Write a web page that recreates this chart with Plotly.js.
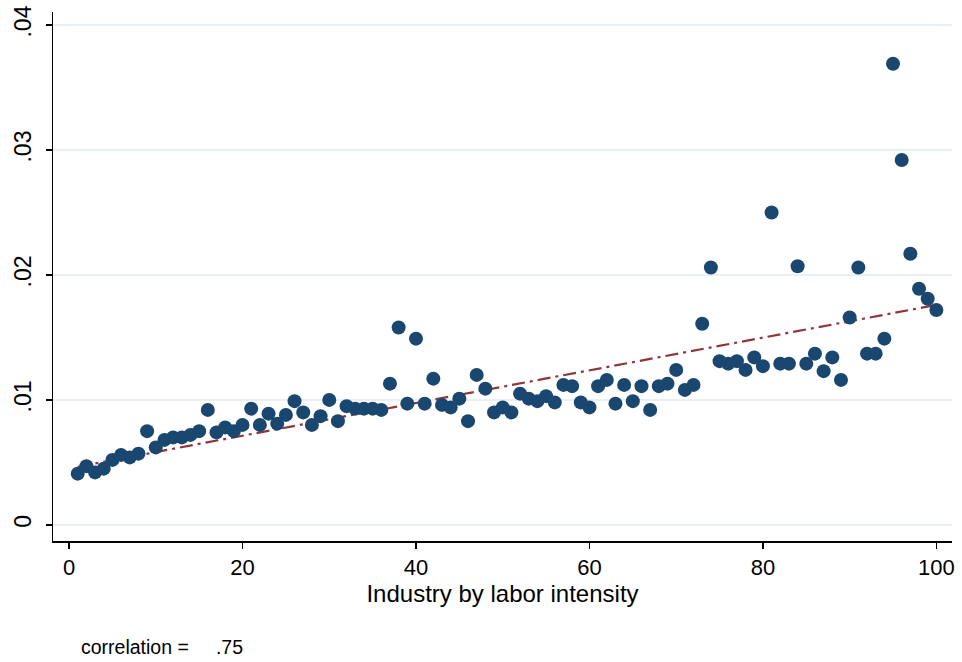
<!DOCTYPE html>
<html>
<head>
<meta charset="utf-8">
<script src="https://cdn.plot.ly/plotly-3.0.1.min.js"></script>
<style>
  body { margin: 0; background: #fff; }
  #plot { width: 962px; height: 662px; }
</style>
</head>
<body>
<div id="plot"></div>
<script>
// industries ranked by labor intensity (1..100)
var industryRank = [];
for (var i = 1; i <= 100; i++) { industryRank.push(i); }

// share values
var shareValues = [
  0.0041, 0.0047, 0.0042, 0.0045, 0.0052, 0.0056, 0.0054, 0.0057, 0.0075, 0.0062,
  0.0068, 0.0070, 0.0070, 0.0072, 0.0075, 0.0092, 0.0074, 0.0078, 0.0075, 0.0080,
  0.0093, 0.0080, 0.0089, 0.0081, 0.0088, 0.0099, 0.0090, 0.0080, 0.0087, 0.0100,
  0.0083, 0.0095, 0.0093, 0.0093, 0.0093, 0.0092, 0.0113, 0.0158, 0.0097, 0.0149,
  0.0097, 0.0117, 0.0096, 0.0094, 0.0101, 0.0083, 0.0120, 0.0109, 0.0090, 0.0094,
  0.0090, 0.0105, 0.0101, 0.0099, 0.0103, 0.0098, 0.0112, 0.0111, 0.0098, 0.0094,
  0.0111, 0.0116, 0.0097, 0.0112, 0.0099, 0.0111, 0.0092, 0.0111, 0.0113, 0.0124,
  0.0108, 0.0112, 0.0161, 0.0206, 0.0131, 0.0129, 0.0131, 0.0124, 0.0134, 0.0127,
  0.0250, 0.0129, 0.0129, 0.0207, 0.0129, 0.0137, 0.0123, 0.0134, 0.0116, 0.0166,
  0.0206, 0.0137, 0.0137, 0.0149, 0.0369, 0.0292, 0.0217, 0.0189, 0.0181, 0.0172
];

// fitted line endpoints
var fitX = [1, 100];
var fitY = [0.00465, 0.0176];

var yTickVals = [0, 0.01, 0.02, 0.03, 0.04];
var yTickText = ['0', '.01', '.02', '.03', '.04'];
var xTickVals = [0, 20, 40, 60, 80, 100];

var traceFit = {
  x: fitX, y: fitY,
  type: 'scatter', mode: 'lines',
  line: { color: '#90353b', width: 2.2, dash: '13px,5px,3px,5px' },
  hoverinfo: 'skip'
};
var tracePts = {
  x: industryRank, y: shareValues,
  type: 'scatter', mode: 'markers',
  marker: { color: '#1a476f', size: 14, line: { width: 0 } }
};

var layout = {
  width: 962, height: 662,
  margin: { l: 53, r: 10, t: 12, b: 121 },
  paper_bgcolor: '#ffffff',
  plot_bgcolor: '#ffffff',
  showlegend: false,
  font: { family: 'Liberation Sans, Arial, sans-serif', color: '#000' },
  xaxis: {
    range: [-1.85, 101.8],
    tickvals: xTickVals,
    ticks: 'outside', ticklen: 6, tickwidth: 1.3, tickcolor: '#000',
    showline: true, linecolor: '#000', linewidth: 1.5,
    showgrid: false, zeroline: false,
    tickfont: { size: 22 },
    title: { text: 'Industry by labor intensity', font: { size: 24 }, standoff: 6 }
  },
  yaxis: {
    range: [-0.00129, 0.04104],
    tickvals: yTickVals, ticktext: yTickText,
    tickangle: -90,
    ticks: 'outside', ticklen: 6, tickwidth: 1.3, tickcolor: '#000',
    ticklabelstandoff: 5,
    showline: true, linecolor: '#000', linewidth: 1.5,
    showgrid: true, gridcolor: '#eaf0f2', gridwidth: 1.5,
    zeroline: false,
    tickfont: { size: 23 }
  },
  annotations: [{
    xref: 'paper', yref: 'paper',
    x: 0.029, y: -0.2,
    xanchor: 'left', yanchor: 'middle',
    showarrow: false,
    text: 'correlation =&nbsp;&nbsp;&nbsp;&nbsp;&nbsp;.75',
    font: { size: 19.5, color: '#000' }
  }]
};

Plotly.newPlot('plot', [traceFit, tracePts], layout, { displayModeBar: false, staticPlot: true });
</script>
</body>
</html>
